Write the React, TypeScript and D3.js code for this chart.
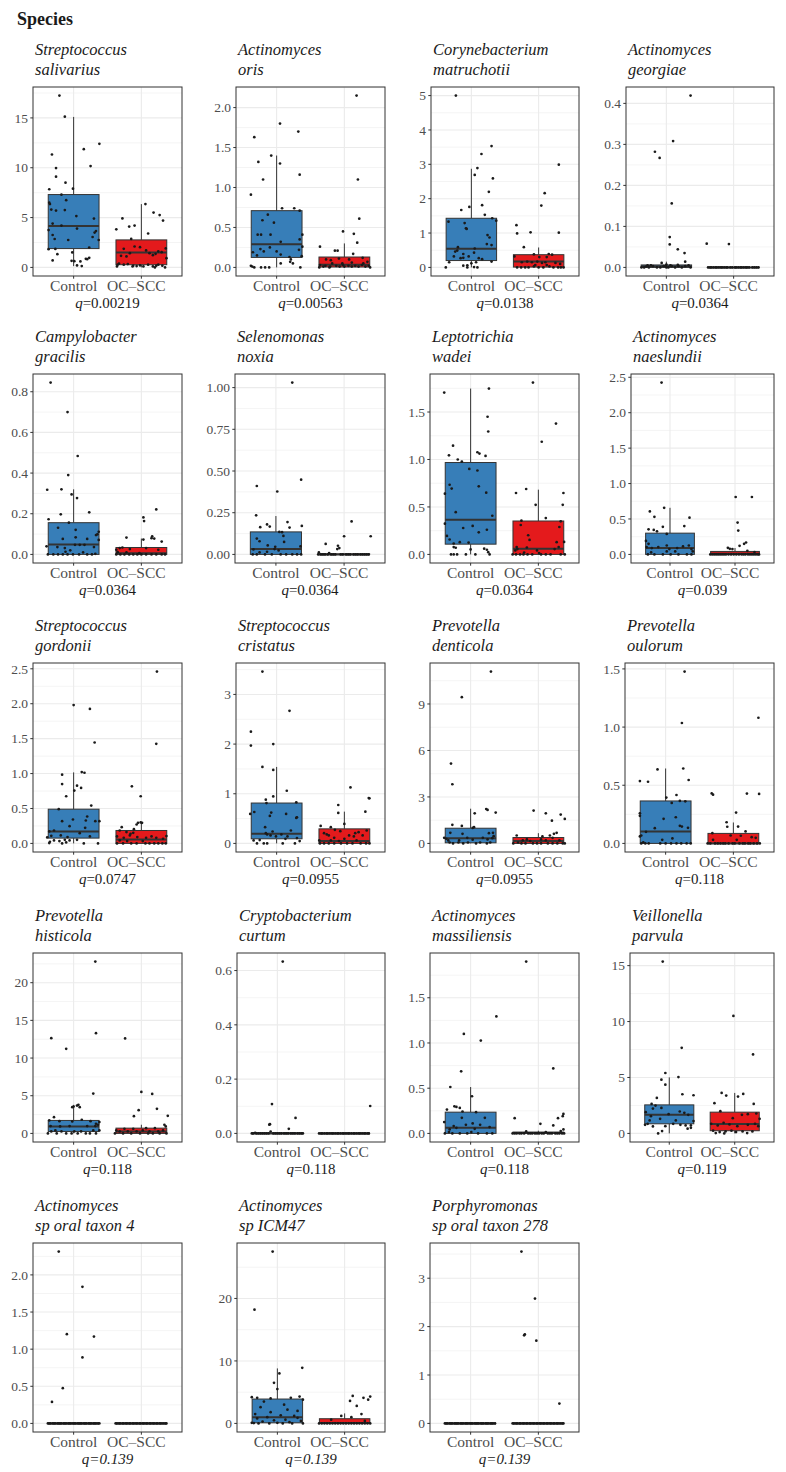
import React from "react";
import * as d3 from "d3";

type Pt = [number, number]; // [relative abundance, jitter offset in category units]

// ---------- DATA ----------
const genus = [
  "Streptococcus", "Actinomyces", "Corynebacterium", "Actinomyces",
  "Campylobacter", "Selenomonas", "Leptotrichia", "Actinomyces",
  "Streptococcus", "Streptococcus", "Prevotella", "Prevotella",
  "Prevotella", "Cryptobacterium", "Actinomyces", "Veillonella",
  "Actinomyces", "Actinomyces", "Porphyromonas",
];
const epithet = [
  "salivarius", "oris", "matruchotii", "georgiae",
  "gracilis", "noxia", "wadei", "naeslundii",
  "gordonii", "cristatus", "denticola", "oulorum",
  "histicola", "curtum", "massiliensis", "parvula",
  "sp oral taxon 4", "sp ICM47", "sp oral taxon 278",
];
const qValues = [
  "0.00219", "0.00563", "0.0138", "0.0364",
  "0.0364", "0.0364", "0.0364", "0.039",
  "0.0747", "0.0955", "0.0955", "0.118",
  "0.118", "0.118", "0.118", "0.119",
  "0.139", "0.139", "0.139",
];
const groups = ["Control", "OC–SCC"];

const tickValues: number[][] = [
  [0, 5, 10, 15], [0, 0.5, 1, 1.5, 2], [0, 1, 2, 3, 4, 5], [0, 0.1, 0.2, 0.3, 0.4],
  [0, 0.2, 0.4, 0.6, 0.8], [0, 0.25, 0.5, 0.75, 1], [0, 0.5, 1, 1.5], [0, 0.5, 1, 1.5, 2, 2.5],
  [0, 0.5, 1, 1.5, 2, 2.5], [0, 1, 2, 3], [0, 3, 6, 9], [0, 0.5, 1, 1.5],
  [0, 5, 10, 15, 20], [0, 0.2, 0.4, 0.6], [0, 0.5, 1, 1.5], [0, 5, 10, 15],
  [0, 0.5, 1, 1.5, 2], [0, 10, 20], [0, 1, 2, 3],
];
const tickLabels: string[][] = [
  ["0", "5", "10", "15"], ["0.0", "0.5", "1.0", "1.5", "2.0"], ["0", "1", "2", "3", "4", "5"], ["0.0", "0.1", "0.2", "0.3", "0.4"],
  ["0.0", "0.2", "0.4", "0.6", "0.8"], ["0.00", "0.25", "0.50", "0.75", "1.00"], ["0.0", "0.5", "1.0", "1.5"], ["0.0", "0.5", "1.0", "1.5", "2.0", "2.5"],
  ["0.0", "0.5", "1.0", "1.5", "2.0", "2.5"], ["0", "1", "2", "3"], ["0", "3", "6", "9"], ["0.0", "0.5", "1.0", "1.5"],
  ["0", "5", "10", "15", "20"], ["0.0", "0.2", "0.4", "0.6"], ["0.0", "0.5", "1.0", "1.5"], ["0", "5", "10", "15"],
  ["0.0", "0.5", "1.0", "1.5", "2.0"], ["0", "10", "20"], ["0", "1", "2", "3"],
];

// box statistics: [lower whisker, Q1, median, Q3, upper whisker]
const ctrlBox: number[][] = [
  [0.13, 1.89, 4.15, 7.31, 15.1], [0, 0.125, 0.29, 0.71, 1.4], [0, 0.2, 0.54, 1.43, 2.87], [0, 0, 0.003, 0.006, 0.014],
  [0, 0, 0.049, 0.156, 0.32], [0, 0, 0.032, 0.135, 0.23], [0, 0.108, 0.365, 0.968, 1.747], [0, 0, 0.089, 0.3, 0.658],
  [0, 0.076, 0.171, 0.49, 1.017], [0, 0.093, 0.193, 0.813, 1.54], [0, 0.04, 0.34, 0.98, 2.24], [0, 0, 0.103, 0.365, 0.644],
  [0, 0.26, 0.93, 1.72, 3.79], [0, 0, 0, 0.002, 0.004], [0, 0, 0.062, 0.235, 0.513], [0, 0.86, 1.66, 2.55, 5.01],
  [0, 0, 0, 0, 0], [0, 0.1, 1.0, 3.9, 8.8], [0, 0, 0, 0, 0],
];
const ocBox: number[][] = [
  [0, 0.27, 1.5, 2.76, 6.35], [0, 0.005, 0.033, 0.13, 0.3], [0, 0.01, 0.17, 0.37, 0.58], [0, 0, 0, 0, 0],
  [0, 0, 0.006, 0.034, 0.078], [0, 0, 0, 0.003, 0.006], [0, 0, 0.059, 0.352, 0.682], [0, 0, 0.01, 0.042, 0.09],
  [0, 0, 0.057, 0.185, 0.3], [0, 0, 0.047, 0.293, 0.64], [0, 0, 0.15, 0.38, 0.66], [0, 0, 0, 0.086, 0.18],
  [0, 0, 0.26, 0.7, 1.15], [0, 0, 0, 0, 0], [0, 0, 0.004, 0.015, 0.03], [0, 0.24, 0.83, 1.9, 3.62],
  [0, 0, 0, 0, 0], [0, 0, 0.05, 0.75, 1.6], [0, 0, 0, 0, 0],
];

const salivariusCtrl: Pt[] = [[17.24,-0.21],[15.12,-0.13],[11.33,-0.32],[11.86,0.15],[12.4,0.38],[10.17,0.25],[9.97,-0.26],[9.1,-0.26],[8.5,-0.12],[7.84,-0.36],[7.9,-0.01],[7.3,-0.18],[6.75,-0.11],[6.5,-0.36],[6.35,-0.35],[5.8,-0.33],[5.7,-0.26],[5.75,-0.13],[5.15,0.04],[4.9,0.3],[4.4,-0.31],[4.2,-0.18],[3.75,-0.37],[3.9,0.05],[3.65,0.33],[3.5,0.31],[3.25,-0.31],[2.85,-0.28],[2.75,-0.08],[3.05,0.28],[2.75,0.37],[1.83,-0.37],[1.85,-0.27],[2.0,0.23],[1.33,-0.24],[0.7,-0.31],[1.5,-0.02],[0.63,0.01],[0.6,0.1],[0.86,0.18],[0.96,0.23],[0.83,0.2],[0.2,0.05],[0.13,0.12],[0.66,-0.03]];
const salivariusOc: Pt[] = [[6.35,0.06],[4.92,-0.28],[4.1,-0.18],[4.2,-0.1],[3.82,-0.37],[3.4,0.1],[5.25,0.27],[4.7,0.32],[5.5,0.18],[1.86,-0.26],[2.86,-0.15],[2.1,-0.1],[2.03,-0.02],[1.16,-0.3],[1.1,-0.22],[1.43,-0.17],[1.7,0.07],[1.43,0.12],[1.36,0.21],[1.53,0.3],[1.9,0.36],[1.6,0.25],[0.93,0.37],[1.23,0.17],[0.1,-0.36],[0.37,-0.33],[0.27,-0.26],[0.17,-0.12],[0.13,-0.07],[0.1,0.03],[0.1,0.17],[0,0.2],[0.27,0.25],[0,0.35],[0.17,0.22],[0.27,0.1],[0.33,-0.2],[0.2,-0.02],[0.1,-0.13],[0.27,-0.35],[0.17,0.31]];

const orisCtrl: Pt[] = [[1.8,0.05],[1.63,-0.33],[1.7,0.32],[1.4,-0.08],[1.32,-0.27],[1.3,0.05],[1.1,-0.2],[1.16,0.34],[0.91,-0.38],[0.74,0.08],[0.74,0.26],[0.71,0.34],[0.66,-0.13],[0.59,-0.21],[0.56,-0.04],[0.41,-0.28],[0.41,-0.23],[0.41,-0.09],[0.41,0.38],[0.32,0.06],[0.35,0.34],[0.26,0.38],[0.23,-0.24],[0.25,-0.1],[0.19,-0.35],[0.2,-0.19],[0.15,-0.29],[0.2,0.0],[0.16,0.06],[0.13,0.19],[0.1,0.21],[0.05,0.24],[0.05,0.06],[0.14,0.37],[0.22,0.33],[0.02,-0.38],[0.01,-0.36],[0,-0.33],[0,-0.23],[0,-0.17],[0,-0.11],[0,0.35],[0.07,0.2]];
const orisOc: Pt[] = [[2.15,0.18],[1.1,0.2],[0.61,0.22],[0.45,-0.02],[0.42,0.14],[0.31,0.19],[0.26,-0.36],[0.21,-0.14],[0.21,-0.1],[0.17,0.13],[0.11,-0.08],[0.12,0.27],[0.1,-0.27],[0.09,-0.2],[0.1,0.07],[0.07,0.34],[0.03,-0.36],[0.02,-0.28],[0.01,-0.21],[0.02,-0.12],[0.01,-0.07],[0.03,-0.02],[0.01,0.0],[0.02,0.06],[0.01,0.11],[0.02,0.16],[0.01,0.21],[0.03,0.26],[0.01,0.31],[0.02,0.36],[0.05,-0.18],[0.01,-0.31],[0.05,-0.03],[0.06,0.11],[0.05,0.28],[0,-0.22],[0,0.38],[0,-0.37]];

const matruchotiiCtrl: Pt[] = [[5.0,-0.23],[3.53,0.3],[3.3,0.15],[2.89,0.09],[2.69,0.05],[2.59,0.32],[2.2,0.26],[1.81,0.16],[1.76,-0.03],[1.53,0.2],[1.67,-0.15],[1.33,-0.34],[1.43,0.31],[1.36,0.37],[1.29,-0.1],[1.14,-0.08],[1.12,-0.07],[0.94,0.24],[0.87,0.27],[0.65,0.3],[0.68,0.23],[0.59,-0.2],[0.49,-0.21],[0.46,-0.24],[0.39,-0.12],[0.43,0.04],[0.55,0.05],[0.32,-0.26],[0.32,-0.04],[0.27,-0.16],[0.28,-0.12],[0.27,0.11],[0.24,0.16],[0.17,0.3],[0.15,-0.33],[0.15,0.07],[0.06,-0.06],[0.12,0.0],[0.05,-0.12],[0.01,0.04],[0,-0.38],[0,-0.06],[0,0.09]];
const matruchotiiOc: Pt[] = [[2.99,0.3],[2.16,0.09],[1.8,0.04],[1.23,-0.33],[1.02,-0.12],[1.01,0.3],[0.99,-0.32],[0.59,-0.22],[0.38,-0.07],[0.39,0.15],[0.37,0.2],[0.3,0.01],[0.3,0.12],[0.32,-0.36],[0.15,-0.25],[0.17,-0.17],[0.15,-0.1],[0.17,-0.02],[0.13,0.05],[0.15,0.1],[0.13,0.25],[0.1,0.32],[0,-0.32],[0,-0.26],[0,-0.2],[0,-0.15],[0.03,-0.07],[0,0.0],[0,0.07],[0.03,0.16],[0,0.22],[0,0.29],[0,0.33],[0,0.37],[0.07,-0.05],[0.07,0.12]];

const georgiaeCtrl: Pt[] = [[0.419,0.36],[0.308,0.1],[0.282,-0.17],[0.267,-0.1],[0.156,0.08],[0.074,0.05],[0.056,0.05],[0.044,0.17],[0.035,0.27],[0.014,0.28],[0.011,-0.07],[0.007,0.0],[0.005,-0.23],[0.002,-0.3],[0,-0.26],[0.003,-0.2],[0,-0.14],[0.003,-0.04],[0,0.0],[0.003,-0.01],[0,0.03],[0.003,0.08],[0,0.13],[0.003,0.18],[0,0.23],[0.003,0.28],[0.005,0.33],[0,0.36],[0.005,-0.28],[0,-0.09],[0.006,0.17],[0.005,0.06],[0,-0.37],[0,-0.33]];
const georgiaeOc: Pt[] = [[0.058,-0.4],[0.057,-0.07],[0,-0.38],[0,-0.35],[0,-0.33],[0,-0.3],[0,-0.27],[0,-0.25],[0,-0.22],[0,-0.19],[0,-0.17],[0,-0.14],[0,-0.11],[0,-0.09],[0,-0.05],[0,-0.02],[0,0.02],[0,0.04],[0,0.07],[0,0.1],[0,0.12],[0,0.15],[0,0.18],[0,0.2],[0,0.23],[0,0.28],[0,0.31],[0,0.34],[0,0.37]];

const gracilisCtrl: Pt[] = [[0.845,-0.34],[0.7,-0.09],[0.484,0.06],[0.39,-0.08],[0.318,-0.39],[0.32,-0.18],[0.295,-0.03],[0.277,0.05],[0.207,0.23],[0.197,-0.19],[0.173,-0.37],[0.156,-0.07],[0.131,-0.23],[0.121,0.03],[0.111,0.37],[0.099,0.35],[0.084,0.03],[0.071,0.37],[0.076,-0.16],[0.076,0.2],[0.095,0.33],[0.04,-0.4],[0.036,-0.24],[0.031,-0.13],[0.047,0.02],[0.047,0.09],[0.047,0.16],[0.036,0.3],[0.02,-0.05],[0.013,-0.12],[0,-0.38],[0,-0.3],[0,-0.23],[0,-0.16],[0,-0.09],[0,-0.01],[0,0.08],[0,0.2],[0,0.27],[0.003,0.32],[0.01,0.14]];
const gracilisOc: Pt[] = [[0.221,0.22],[0.182,0.03],[0.164,0.04],[0.089,0.16],[0.078,0.19],[0.063,0.3],[0.083,-0.22],[0.073,0.03],[0.08,0.15],[0.034,-0.28],[0.026,-0.17],[0.023,-0.37],[0.011,-0.35],[0.031,-0.32],[0.031,0.07],[0.023,0.25],[0,-0.37],[0,-0.31],[0,-0.25],[0,-0.18],[0,-0.12],[0,-0.06],[0,0.0],[0,0.07],[0,0.15],[0,0.22],[0,0.3],[0,0.35],[0.01,-0.22],[0.006,-0.03]];

const noxiaCtrl: Pt[] = [[1.03,0.24],[0.448,0.37],[0.41,-0.28],[0.377,0.02],[0.234,-0.29],[0.163,-0.23],[0.18,-0.13],[0.167,-0.09],[0.194,0.17],[0.171,0.38],[0.161,0.2],[0.135,0.05],[0.133,0.09],[0.111,0.11],[0.095,-0.28],[0.079,-0.24],[0.054,-0.12],[0.046,-0.01],[0.075,0.12],[0.048,0.36],[0.032,-0.02],[0.03,-0.33],[0.012,-0.24],[0.016,-0.13],[0,-0.16],[0,-0.34],[0,-0.28],[0,-0.06],[0,0.07],[0,0.15],[0,0.24],[0,0.31],[0,0.37],[0.024,0.04]];
const noxiaOc: Pt[] = [[0.198,0.11],[0.109,0.0],[0.109,0.39],[0.063,-0.27],[0.052,-0.09],[0.038,-0.07],[0.032,-0.1],[0.012,-0.37],[0.008,-0.22],[0,-0.38],[0,-0.34],[0,-0.31],[0,-0.28],[0,-0.24],[0,-0.19],[0,-0.16],[0,-0.13],[0,-0.05],[0,-0.02],[0,0.03],[0,0.06],[0,0.09],[0,0.14],[0,0.17],[0,0.2],[0,0.24],[0,0.27],[0,0.3],[0,0.33],[0,0.36]];

const wadeiCtrl: Pt[] = [[1.705,-0.39],[1.747,0.27],[1.45,0.25],[1.295,0.26],[1.145,-0.26],[1.044,-0.32],[1.0,-0.19],[1.076,0.1],[1.062,0.13],[1.037,0.22],[0.978,-0.13],[0.9,-0.02],[0.884,0.1],[0.734,-0.31],[0.693,-0.28],[0.717,0.12],[0.64,-0.38],[0.65,0.23],[0.445,-0.22],[0.407,0.32],[0.324,-0.38],[0.278,-0.11],[0.3,0.03],[0.26,0.24],[0.233,0.12],[0.195,-0.35],[0.157,-0.31],[0.115,-0.25],[0.129,-0.16],[0.125,-0.03],[0.077,-0.25],[0.07,-0.22],[0.06,0.2],[0.049,0.24],[0.024,0.26],[0.052,0.0],[0,-0.29],[0,-0.25],[0,-0.2],[0,-0.07],[0,0.07],[0,0.28]];
const wadeiOc: Pt[] = [[1.81,-0.08],[1.378,0.26],[1.187,0.05],[0.647,-0.33],[0.689,-0.18],[0.647,0.37],[0.522,-0.04],[0.522,0.36],[0.383,0.11],[0.355,-0.25],[0.31,-0.26],[0.348,0.33],[0.202,-0.15],[0.289,0.31],[0.153,-0.13],[0.132,0.38],[0.129,0.27],[0.077,-0.32],[0.073,-0.17],[0.056,-0.31],[0.042,-0.34],[0.056,0.24],[0.077,0.3],[0.042,-0.02],[0,-0.38],[0,-0.33],[0,-0.27],[0,-0.22],[0,-0.16],[0,-0.09],[0,0.04],[0,0.11],[0,0.18],[0,0.33],[0,0.39],[0.02,-0.21],[0.014,0.01]];

const naeslundiiCtrl: Pt[] = [[2.425,-0.13],[0.658,-0.09],[0.606,-0.31],[0.53,-0.24],[0.518,0.3],[0.354,-0.33],[0.345,-0.25],[0.326,-0.2],[0.39,-0.11],[0.4,0.22],[0.289,-0.05],[0.19,-0.37],[0.103,-0.36],[0.089,-0.28],[0.103,-0.18],[0.126,-0.05],[0.089,0.11],[0.112,0.2],[0.126,0.29],[0.075,0.33],[0.042,0.35],[0.042,0.08],[0.042,-0.05],[0.028,-0.29],[0,-0.34],[0,-0.24],[0,-0.11],[0,0.01],[0,0.13],[0,0.26],[0,0.33],[0.075,-0.01],[0.149,-0.33]];
const naeslundiiOc: Pt[] = [[0.81,0.01],[0.81,0.26],[0.45,0.04],[0.336,0.05],[0.168,0.17],[0.149,0.14],[0.121,0.07],[0.093,-0.11],[0.079,-0.08],[0.075,-0.04],[0.051,0.19],[0.033,0.3],[0,-0.38],[0,-0.35],[0,-0.32],[0,-0.29],[0,-0.26],[0,-0.23],[0,-0.2],[0,-0.17],[0,-0.14],[0,-0.1],[0,-0.06],[0,-0.02],[0,0.02],[0,0.06],[0,0.1],[0,0.13],[0,0.16],[0,0.2],[0,0.23],[0,0.26],[0,0.29],[0,0.32],[0,0.35],[0,0.37]];

const gordoniiCtrl: Pt[] = [[1.98,0.0],[1.925,0.24],[1.445,0.31],[1.022,0.12],[1.012,0.16],[0.984,-0.17],[0.827,0.05],[0.756,0.01],[0.794,0.11],[0.675,-0.11],[0.85,-0.17],[0.542,0.26],[0.49,-0.22],[0.385,0.2],[0.318,0.32],[0.318,0.38],[0.318,-0.17],[0.342,-0.01],[0.328,0.18],[0.247,-0.06],[0.223,0.17],[0.171,-0.36],[0.185,-0.29],[0.147,0.09],[0.109,-0.33],[0.086,-0.39],[0.114,-0.19],[0.09,-0.09],[0.1,0.24],[0.024,-0.35],[0.043,-0.29],[0.033,-0.21],[0.052,-0.13],[0.043,-0.06],[0.052,0.05],[0.005,-0.36],[0,-0.17],[0.014,-0.11],[0,0.15],[0,0.36]];
const gordoniiOc: Pt[] = [[2.46,0.23],[1.426,0.22],[0.817,-0.14],[0.675,-0.01],[0.233,-0.29],[0.271,-0.07],[0.295,-0.05],[0.3,-0.01],[0.295,0.01],[0.204,-0.11],[0.185,-0.32],[0.162,-0.22],[0.138,-0.16],[0.152,-0.12],[0.1,-0.36],[0.081,-0.26],[0.114,-0.17],[0.09,-0.06],[0.081,0.07],[0.1,0.15],[0.081,0.22],[0.067,0.32],[0.105,0.37],[0.043,-0.32],[0.033,-0.21],[0.033,0.02],[0,-0.36],[0,-0.27],[0,-0.15],[0,-0.07],[0,0.06],[0,0.12],[0,0.19],[0,0.25],[0,0.31],[0,0.36]];

const cristatusCtrl: Pt[] = [[3.46,-0.21],[2.67,0.19],[2.25,-0.38],[1.97,-0.38],[2.0,-0.05],[1.54,-0.21],[1.48,-0.05],[1.06,0.15],[0.947,-0.05],[0.88,-0.16],[0.813,-0.15],[0.827,0.29],[0.633,-0.33],[0.593,-0.39],[0.62,-0.08],[0.593,0.14],[0.553,-0.1],[0.527,0.3],[0.513,0.29],[0.327,-0.17],[0.26,0.21],[0.24,-0.06],[0.207,-0.16],[0.18,-0.14],[0.16,-0.09],[0.14,-0.01],[0.18,0.07],[0.14,0.16],[0.067,-0.25],[0.093,0.13],[0.107,0.3],[0,-0.19],[0,-0.14],[0,0.09],[0,0.27],[0.06,-0.34],[0,-0.29],[0.047,0.34]];
const cristatusOc: Pt[] = [[1.127,0.09],[0.913,0.36],[0.907,0.37],[0.773,-0.09],[0.613,-0.09],[0.64,0.31],[0.393,0.0],[0.353,-0.35],[0.327,-0.2],[0.273,-0.14],[0.247,-0.06],[0.227,0.21],[0.26,0.33],[0.207,-0.3],[0.18,-0.26],[0.16,-0.23],[0.16,0.07],[0.14,0.14],[0.16,0.27],[0.207,0.16],[0.113,-0.15],[0.093,0.0],[0.06,-0.37],[0.06,-0.2],[0.047,-0.08],[0.06,0.18],[0,-0.36],[0,-0.3],[0,-0.23],[0,-0.15],[0,-0.05],[0,0.04],[0,0.12],[0,0.24],[0,0.32],[0,0.37]];

const denticolaCtrl: Pt[] = [[11.09,0.3],[9.44,-0.13],[5.15,-0.29],[3.82,-0.27],[2.22,0.23],[2.16,0.25],[1.99,0.37],[1.94,0.06],[1.2,-0.27],[1.13,-0.13],[1.0,0.03],[1.05,0.05],[0.68,-0.3],[0.62,-0.12],[0.66,0.27],[0.68,0.33],[0.47,0.34],[0.36,-0.39],[0.3,-0.36],[0.36,-0.05],[0.34,0.32],[0.36,0.18],[0.19,-0.17],[0.24,0.03],[0.26,0.25],[0.06,-0.31],[0,-0.26],[0.06,-0.18],[0,-0.11],[0.06,-0.04],[0,0.08],[0.06,0.14],[0,0.24],[0.06,0.29],[0.19,-0.33]];
const denticolaOc: Pt[] = [[2.12,-0.07],[1.94,0.11],[1.58,0.39],[1.47,0.2],[1.86,0.33],[0.51,-0.32],[0.62,0.23],[0.68,0.27],[0.45,0.06],[0.51,0.17],[0.36,0.21],[0.26,-0.17],[0.19,-0.23],[0.15,-0.12],[0.26,0.04],[0.19,0.11],[0.19,0.31],[0.06,-0.3],[0,-0.37],[0,-0.25],[0,-0.19],[0,-0.08],[0,-0.02],[0,0.04],[0,0.14],[0,0.21],[0,0.28],[0,0.36],[0,0.39]];

const oulorumCtrl: Pt[] = [[1.477,0.28],[1.035,0.24],[0.536,-0.38],[0.53,-0.26],[0.636,-0.12],[0.644,0.26],[0.545,0.34],[0.416,0.16],[0.394,0.01],[0.259,-0.38],[0.237,-0.38],[0.211,-0.03],[0.225,0.15],[0.365,0.21],[0.348,0.09],[0.362,0.29],[0.131,-0.16],[0.151,0.21],[0.145,0.24],[0.134,0.33],[0.1,-0.29],[0.06,-0.38],[0.068,-0.36],[0.043,0.1],[0.031,-0.05],[0.009,-0.33],[0,-0.25],[0,-0.08],[0,0.0],[0,0.08],[0,0.16],[0,0.23],[0,0.31],[0,0.37],[0,-0.3],[0,-0.36]];
const oulorumOc: Pt[] = [[1.08,0.37],[0.43,-0.32],[0.419,-0.3],[0.428,0.2],[0.425,0.38],[0.265,0.04],[0.182,-0.1],[0.143,-0.09],[0.145,0.07],[0.088,-0.31],[0.103,0.18],[0.068,-0.04],[0.066,0.11],[0.054,0.27],[0.048,0.33],[0.031,-0.3],[0.031,0.05],[0,-0.38],[0,-0.34],[0,-0.27],[0,-0.23],[0,-0.19],[0,-0.15],[0,-0.12],[0,-0.07],[0,-0.01],[0,0.02],[0,0.09],[0,0.14],[0,0.17],[0,0.22],[0,0.25],[0,0.3],[0,0.35],[0,0.39]];

const histicolaCtrl: Pt[] = [[22.8,0.32],[12.64,-0.33],[11.23,-0.11],[13.3,0.33],[5.29,0.29],[3.7,0.05],[3.79,0.07],[3.57,0.0],[3.48,-0.02],[3.48,0.09],[2.16,-0.29],[1.72,-0.36],[1.63,-0.21],[1.59,-0.02],[1.81,0.12],[1.63,0.25],[1.5,0.38],[1.28,0.33],[1.15,0.36],[0.97,0.32],[0.97,-0.34],[0.93,-0.2],[0.97,-0.06],[0.97,0.2],[0.4,0.38],[0.4,0.29],[0.26,0.11],[0.26,0.01],[0.26,-0.33],[0.4,-0.27],[0.26,-0.18],[0,-0.38],[0,-0.25],[0,-0.11],[0,-0.03],[0,0.06],[0,0.18],[0,0.24],[0,0.33]];
const histicolaOc: Pt[] = [[12.6,-0.24],[5.5,0.0],[5.24,0.16],[3.08,-0.04],[3.26,0.23],[2.29,-0.11],[2.33,0.39],[1.15,0.34],[0.93,0.36],[0.7,0.2],[0.7,0.07],[0.62,-0.12],[0.62,-0.25],[0.4,-0.37],[0.26,-0.32],[0.26,-0.2],[0.26,-0.07],[0.4,0.02],[0.26,0.12],[0.26,0.25],[0.4,0.32],[0,-0.39],[0,-0.27],[0,-0.15],[0,-0.02],[0,0.1],[0,0.17],[0,0.27],[0,0.37]];

const curtumCtrl: Pt[] = [[0.633,0.08],[0.108,-0.08],[0.057,0.27],[0.034,-0.11],[0.032,-0.12],[0.017,0.17],[0.002,-0.33],[0.007,-0.1],[0,-0.38],[0,-0.36],[0,-0.31],[0,-0.28],[0,-0.25],[0,-0.22],[0,-0.19],[0,-0.16],[0,-0.13],[0,-0.06],[0,-0.03],[0,0.0],[0,0.03],[0,0.06],[0,0.1],[0,0.13],[0,0.16],[0,0.2],[0,0.23],[0,0.26],[0,0.3],[0,0.33],[0,0.36],[0,0.38]];
const curtumOc: Pt[] = [[0.101,0.38],[0,-0.38],[0,-0.35],[0,-0.33],[0,-0.3],[0,-0.27],[0,-0.25],[0,-0.22],[0,-0.19],[0,-0.17],[0,-0.14],[0,-0.11],[0,-0.09],[0,-0.06],[0,-0.03],[0,-0.01],[0,0.02],[0,0.05],[0,0.07],[0,0.1],[0,0.13],[0,0.15],[0,0.18],[0,0.21],[0,0.23],[0,0.26],[0,0.29],[0,0.31],[0,0.34],[0,0.36]];

const massiliensisCtrl: Pt[] = [[1.294,0.38],[1.1,-0.1],[1.027,0.15],[0.686,-0.14],[0.513,-0.3],[0.411,0.02],[0.3,-0.24],[0.293,-0.21],[0.282,-0.16],[0.264,-0.35],[0.242,-0.12],[0.235,0.08],[0.172,0.21],[0.172,-0.13],[0.125,-0.39],[0.11,0.03],[0.095,-0.07],[0.081,-0.25],[0.095,0.14],[0.062,-0.21],[0.051,0.06],[0.07,0.28],[0.044,-0.31],[0,-0.38],[0,-0.27],[0,-0.16],[0,-0.05],[0,0.11],[0,0.24],[0,0.32],[0.015,0.01],[0.015,-0.32]];
const massiliensisOc: Pt[] = [[1.9,-0.18],[0.719,0.22],[0.169,-0.35],[0.216,0.37],[0.191,0.36],[0.169,0.29],[0.106,0.03],[0.088,0.22],[0.044,0.37],[0.026,0.33],[0.022,-0.18],[0.015,0.11],[0,-0.38],[0,-0.35],[0,-0.32],[0,-0.28],[0,-0.25],[0,-0.21],[0,-0.15],[0,-0.12],[0,-0.09],[0,-0.05],[0,-0.02],[0,0.01],[0,0.05],[0,0.08],[0,0.14],[0,0.17],[0,0.2],[0,0.25],[0,0.28],[0,0.31],[0,0.35],[0,0.38]];

const parvulaCtrl: Pt[] = [[15.36,-0.1],[7.65,0.19],[5.4,-0.06],[5.04,0.14],[4.8,-0.12],[4.36,-0.06],[3.41,0.37],[3.5,0.2],[3.17,-0.19],[2.64,-0.27],[2.49,-0.21],[2.22,-0.25],[2.28,-0.12],[1.9,-0.36],[1.96,0.16],[1.84,0.23],[1.66,0.29],[1.72,-0.01],[1.54,-0.28],[1.3,-0.14],[1.16,0.1],[1.1,0.37],[0.77,-0.37],[0.62,-0.25],[0.77,0.17],[0.71,0.25],[0.71,0.33],[0.42,0.28],[0.21,-0.11],[0,-0.17],[0.86,-0.33],[0.86,0.06],[0.65,-0.06],[0.5,0.33],[1.16,-0.3]];
const parvulaOc: Pt[] = [[10.5,-0.02],[7.06,0.28],[3.62,-0.2],[3.38,-0.13],[3.53,0.13],[3.29,0.05],[2.7,-0.31],[2.64,0.29],[1.99,-0.22],[1.66,0.11],[1.72,0.2],[1.78,0.33],[1.36,-0.03],[1.3,0.38],[0.86,-0.36],[0.71,-0.26],[0.95,-0.17],[0.8,-0.08],[0.65,0.04],[0.77,0.2],[0.86,0.31],[0.65,0.36],[0.24,-0.33],[0.12,-0.23],[0.18,-0.14],[0.24,-0.05],[0.12,0.02],[0.18,0.12],[0.03,0.19],[0.18,0.27],[0.03,-0.29],[0,-0.16]];

const taxon4Ctrl: Pt[] = [[2.314,-0.22],[1.839,0.13],[1.202,-0.1],[1.17,0.3],[0.888,0.13],[0.475,-0.16],[0.29,-0.32],[0,-0.38],[0,-0.36],[0,-0.34],[0,-0.31],[0,-0.29],[0,-0.27],[0,-0.24],[0,-0.22],[0,-0.2],[0,-0.18],[0,-0.15],[0,-0.13],[0,-0.11],[0,-0.08],[0,-0.06],[0,-0.04],[0,-0.01],[0,0.01],[0,0.03],[0,0.06],[0,0.08],[0,0.1],[0,0.12],[0,0.15],[0,0.17],[0,0.19],[0,0.22],[0,0.24],[0,0.26],[0,0.29],[0,0.31],[0,0.33],[0,0.36],[0,0.38]];
const taxon4Oc: Pt[] = [[0,-0.38],[0,-0.36],[0,-0.33],[0,-0.31],[0,-0.28],[0,-0.26],[0,-0.23],[0,-0.21],[0,-0.18],[0,-0.16],[0,-0.13],[0,-0.11],[0,-0.08],[0,-0.06],[0,-0.03],[0,-0.01],[0,0.02],[0,0.04],[0,0.07],[0,0.09],[0,0.12],[0,0.14],[0,0.17],[0,0.19],[0,0.22],[0,0.24],[0,0.27],[0,0.29],[0,0.32],[0,0.35],[0,0.37]];

const icm47Ctrl: Pt[] = [[27.5,-0.07],[18.2,-0.34],[8.9,0.37],[8.0,0.03],[6.5,-0.05],[5.5,0.0],[4.2,-0.38],[4.1,-0.3],[4.0,-0.1],[4.1,0.2],[4.3,0.33],[3.8,0.38],[3.5,-0.2],[3.0,0.1],[2.6,-0.25],[2.2,0.15],[2.0,0.3],[1.8,-0.1],[1.5,-0.33],[1.3,0.05],[1.2,0.25],[1.0,-0.15],[0.9,0.3],[0.8,-0.3],[0.6,0.12],[0.5,-0.05],[0.4,0.35],[0.3,-0.22],[0.2,0.18],[0.1,-0.38],[0.1,0.0],[0,-0.28],[0,-0.12],[0,0.08],[0,0.22],[0,0.38],[0.05,-0.35]];
const icm47Oc: Pt[] = [[4.4,0.12],[4.3,0.38],[4.1,0.28],[3.6,0.08],[3.8,0.35],[2.8,0.18],[1.5,0.25],[1.2,-0.05],[1.0,0.1],[0.6,-0.2],[0.4,0.3],[0,-0.38],[0,-0.34],[0,-0.3],[0,-0.26],[0,-0.22],[0,-0.18],[0,-0.14],[0,-0.1],[0,-0.06],[0,-0.02],[0,0.02],[0,0.06],[0,0.1],[0,0.14],[0,0.18],[0,0.22],[0,0.26],[0,0.3],[0,0.34],[0,0.38]];

const taxon278Ctrl: Pt[] = [[0,-0.38],[0,-0.36],[0,-0.34],[0,-0.31],[0,-0.29],[0,-0.27],[0,-0.24],[0,-0.22],[0,-0.2],[0,-0.18],[0,-0.15],[0,-0.13],[0,-0.11],[0,-0.08],[0,-0.06],[0,-0.04],[0,-0.01],[0,0.01],[0,0.03],[0,0.06],[0,0.08],[0,0.1],[0,0.12],[0,0.15],[0,0.17],[0,0.19],[0,0.22],[0,0.24],[0,0.26],[0,0.29],[0,0.31],[0,0.33],[0,0.36]];
const taxon278Oc: Pt[] = [[3.55,-0.25],[2.58,-0.05],[1.84,-0.2],[1.82,-0.21],[1.71,-0.03],[0.41,0.31],[0,-0.38],[0,-0.36],[0,-0.33],[0,-0.31],[0,-0.28],[0,-0.26],[0,-0.23],[0,-0.21],[0,-0.18],[0,-0.16],[0,-0.13],[0,-0.11],[0,-0.08],[0,-0.06],[0,-0.03],[0,-0.01],[0,0.02],[0,0.04],[0,0.07],[0,0.09],[0,0.12],[0,0.14],[0,0.17],[0,0.19],[0,0.22],[0,0.24],[0,0.27],[0,0.29],[0,0.32],[0,0.35],[0,0.37]];

const ctrlPts: Pt[][] = [
  salivariusCtrl, orisCtrl, matruchotiiCtrl, georgiaeCtrl,
  gracilisCtrl, noxiaCtrl, wadeiCtrl, naeslundiiCtrl,
  gordoniiCtrl, cristatusCtrl, denticolaCtrl, oulorumCtrl,
  histicolaCtrl, curtumCtrl, massiliensisCtrl, parvulaCtrl,
  taxon4Ctrl, icm47Ctrl, taxon278Ctrl,
];
const ocPts: Pt[][] = [
  salivariusOc, orisOc, matruchotiiOc, georgiaeOc,
  gracilisOc, noxiaOc, wadeiOc, naeslundiiOc,
  gordoniiOc, cristatusOc, denticolaOc, oulorumOc,
  histicolaOc, curtumOc, massiliensisOc, parvulaOc,
  taxon4Oc, icm47Oc, taxon278Oc,
];

// ---------- LAYOUT / STYLE ----------
const FONT = "'Liberation Serif', 'Times New Roman', serif";
const COL_RIGHT = [182, 385, 579, 774];
const ROW_TOP = [87, 374, 663, 953, 1243];
const PANEL_LEFT = [33, 236, 431, 626, 33, 235, 430, 631, 33, 236, 430, 625, 33, 237, 430, 630, 33, 237, 430];
const PLOT_H = 189;
const FILLS = ["#377EB8", "#E41A1C"];
const INK = "#333333";
const AXIS_TEXT = "#4D4D4D";
const GRID = "#EBEBEB";

function Panel({ i }: { i: number }) {
  const left = PANEL_LEFT[i];
  const right = COL_RIGHT[i % 4];
  const top = ROW_TOP[Math.floor(i / 4)];
  const bottom = top + PLOT_H;
  const groupPts = [ctrlPts[i], ocPts[i]];
  const boxes = [ctrlBox[i], ocBox[i]];
  const maxV = d3.max([
    ...groupPts[0].map((p) => p[0]),
    ...groupPts[1].map((p) => p[0]),
    boxes[0][4],
    boxes[1][4],
  ]) as number;
  const y = d3.scaleLinear().domain([-0.05 * maxV, 1.05 * maxV]).range([bottom, top]);
  const x = d3.scaleLinear().domain([0.4, 2.6]).range([left, right]);
  const ticks = tickValues[i];
  const step = ticks[1] - ticks[0];
  const [dmin, dmax] = y.domain();
  const minors: number[] = [];
  for (let m = ticks[0] - step / 2; m <= dmax; m += step) if (m >= dmin) minors.push(m);
  const halfW = x(1.375) - x(1);
  const allItalic = i >= 16;
  const cx = (left + right) / 2;

  return (
    <g fontFamily={FONT}>
      {/* title */}
      <text x={left + 2} y={top - 32} fontFamily={FONT} fontSize={16.5} fontStyle="italic" fill="#1a1a1a">{genus[i]}</text>
      <text x={left + 2} y={top - 12} fontFamily={FONT} fontSize={16.5} fontStyle="italic" fill="#1a1a1a">{epithet[i]}</text>
      {/* panel background + grid */}
      <rect x={left} y={top} width={right - left} height={PLOT_H} fill="#fff" />
      {minors.map((m, k) => (
        <line key={"mi" + k} x1={left} x2={right} y1={y(m)} y2={y(m)} stroke={GRID} strokeWidth={0.55} />
      ))}
      {ticks.map((t, k) => (
        <line key={"ma" + k} x1={left} x2={right} y1={y(t)} y2={y(t)} stroke={GRID} strokeWidth={1.1} />
      ))}
      {[1, 2].map((g) => (
        <line key={"vg" + g} x1={x(g)} x2={x(g)} y1={top} y2={bottom} stroke={GRID} strokeWidth={1.1} />
      ))}
      {/* boxplots */}
      {boxes.map((b, g) => {
        const gx = x(g + 1);
        return (
          <g key={"b" + g}>
            <line x1={gx} x2={gx} y1={y(b[3])} y2={y(b[4])} stroke={INK} strokeWidth={1} />
            <line x1={gx} x2={gx} y1={y(b[1])} y2={y(b[0])} stroke={INK} strokeWidth={1} />
            <rect
              x={gx - halfW}
              y={y(b[3])}
              width={2 * halfW}
              height={Math.max(0, y(b[1]) - y(b[3]))}
              fill={FILLS[g]}
              stroke={INK}
              strokeWidth={1}
            />
            <line x1={gx - halfW} x2={gx + halfW} y1={y(b[2])} y2={y(b[2])} stroke={INK} strokeWidth={2} />
          </g>
        );
      })}
      {/* jittered points */}
      {groupPts.map((pts, g) =>
        pts.map((p, k) => (
          <circle key={"p" + g + "-" + k} cx={x(g + 1 + p[1])} cy={y(p[0])} r={1.35} fill="#1a1a1a" />
        ))
      )}
      {/* border */}
      <rect x={left} y={top} width={right - left} height={PLOT_H} fill="none" stroke={INK} strokeWidth={1} />
      {/* y axis */}
      {ticks.map((t, k) => (
        <g key={"yt" + k}>
          <line x1={left - 2.7} x2={left} y1={y(t)} y2={y(t)} stroke={INK} strokeWidth={1} />
          <text x={left - 5} y={y(t)} dy="0.35em" textAnchor="end" fontFamily={FONT} fontSize={13.5} fill={AXIS_TEXT}>
            {tickLabels[i][k]}
          </text>
        </g>
      ))}
      {/* x axis */}
      {groups.map((gname, g) => (
        <g key={"xt" + g}>
          <line x1={x(g + 1)} x2={x(g + 1)} y1={bottom} y2={bottom + 2.7} stroke={INK} strokeWidth={1} />
          <text x={x(g + 1) - (g === 1 ? 5 : 0)} y={bottom + 15} textAnchor="middle" fontFamily={FONT} fontSize={15.5} fill={AXIS_TEXT}>
            {gname}
          </text>
        </g>
      ))}
      <text x={cx} y={bottom + 31.5} textAnchor="middle" fontFamily={FONT} fontSize={15} fill="#1a1a1a" fontStyle={allItalic ? "italic" : "normal"}>
        <tspan fontStyle="italic">q</tspan>
        <tspan>={qValues[i]}</tspan>
      </text>
    </g>
  );
}

export default function App() {
  return (
    <svg
      width={786}
      height={1472}
      style={{ position: "absolute", left: 0, top: 0, background: "#fff" }}
      fontFamily={FONT}
    >
      <rect width={786} height={1472} fill="#fff" />
      <text x={17} y={25} fontFamily={FONT} fontSize={18} fontWeight="bold" fill="#1a1a1a">Species</text>
      {genus.map((_, i) => (
        <Panel key={i} i={i} />
      ))}
    </svg>
  );
}
